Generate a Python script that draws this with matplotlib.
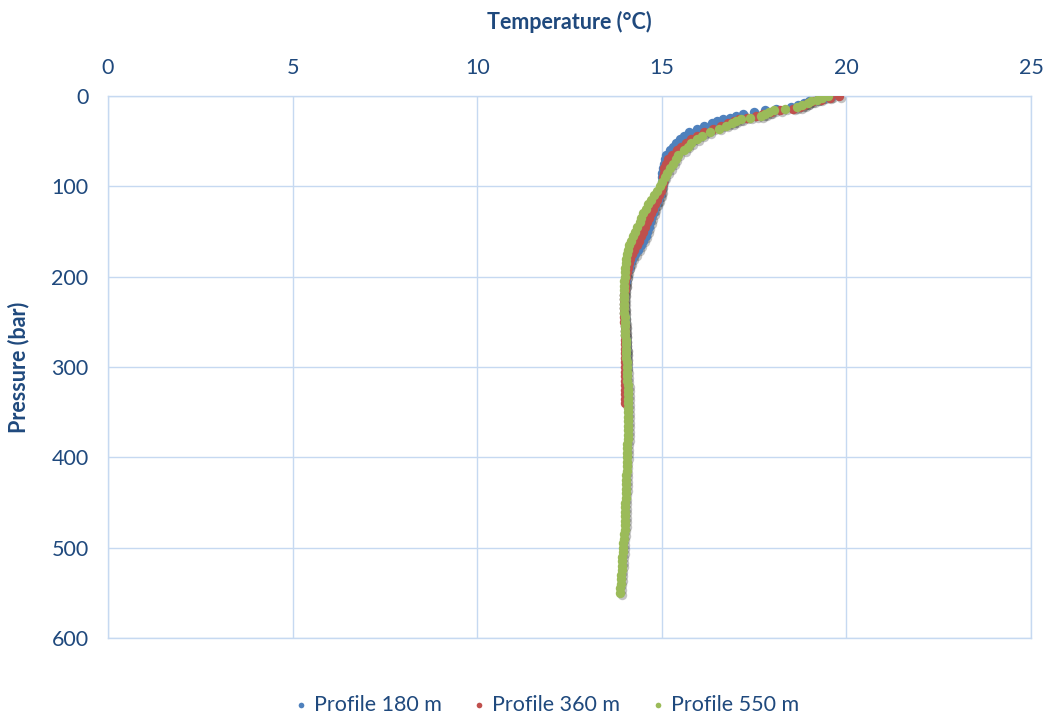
import matplotlib
matplotlib.use("Agg")
import matplotlib.pyplot as plt
from matplotlib.transforms import offset_copy

plt.rcParams["font.family"] = ["Lato", "DejaVu Sans"]

TEXT_COLOR = "#1f497d"
GRID_COLOR = "#c6d9f1"

COLORS = {
    "Profile 180 m": "#4f81bd",
    "Profile 360 m": "#c0504d",
    "Profile 550 m": "#9bbb59",
}

# Profile 180 m
p_180 = [0, 2, 4, 6, 8, 10, 12, 14, 16, 18, 20, 22, 24, 26, 28, 30, 33, 36, 40, 44,
         48, 52, 56, 60, 65, 70, 75, 80, 85, 90, 95, 100, 105, 110, 115, 120, 125, 130,
         135, 140, 145, 150, 155, 160, 165, 170, 175, 180, 185, 190, 195, 200, 205, 210,
         215, 220, 225, 230, 235, 240, 245, 250, 255, 260, 265, 270, 275, 280, 285, 290,
         295, 300]
t_180 = [19.6, 19.4, 19.2, 19.0, 18.85, 18.7, 18.5, 18.1, 17.8, 17.5, 17.2, 17.0, 16.85,
         16.65, 16.5, 16.35, 16.15, 15.95, 15.75, 15.6, 15.5, 15.38, 15.3, 15.22, 15.12,
         15.08, 15.05, 15.02, 15.0, 15.0, 15.0, 15.0, 14.98, 14.95, 14.9, 14.85, 14.8,
         14.76, 14.72, 14.68, 14.64, 14.6, 14.56, 14.5, 14.43, 14.36, 14.28, 14.2, 14.15,
         14.1, 14.07, 14.04, 14.02, 14.0, 13.99, 13.98, 13.98, 13.98, 13.98, 13.98, 13.99,
         13.99, 14.0, 14.0, 14.01, 14.02, 14.02, 14.03, 14.03, 14.04, 14.04, 14.05]

# Profile 360 m
p_360 = [0, 2, 4, 6, 8, 10, 12, 14, 16, 18, 20, 22, 24, 26, 28, 30, 33, 36, 40, 44,
         48, 52, 56, 60, 65, 70, 75, 80, 85, 90, 95, 100, 105, 110, 115, 120, 125, 130,
         135, 140, 145, 150, 155, 160, 165, 170, 175, 180, 185, 190, 195, 200, 205, 210,
         215, 220, 225, 230, 235, 240, 245, 250, 255, 260, 265, 270, 275, 280, 285, 290,
         295, 300, 305, 310, 315, 320, 325, 330, 335, 340]
t_360 = [19.8, 19.55, 19.3, 19.1, 18.95, 18.85, 18.75, 18.55, 18.2, 17.95, 17.75, 17.55,
         17.3, 17.1, 16.95, 16.8, 16.6, 16.4, 16.15, 15.95, 15.8, 15.65, 15.52, 15.4,
         15.28, 15.18, 15.12, 15.07, 15.05, 15.03, 15.02, 15.0, 14.97, 14.93, 14.88, 14.82,
         14.76, 14.7, 14.65, 14.6, 14.55, 14.5, 14.45, 14.38, 14.32, 14.26, 14.2, 14.15,
         14.11, 14.08, 14.05, 14.03, 14.01, 14.0, 13.99, 13.98, 13.97, 13.97, 13.97, 13.97,
         13.98, 13.98, 13.99, 13.99, 14.0, 14.0, 14.0, 14.0, 14.0, 14.0, 14.0, 14.0,
         14.0, 14.0, 14.0, 14.0, 14.0, 14.0, 14.0, 14.01]

# Profile 550 m
p_550 = [0, 2, 4, 6, 8, 10, 12, 14, 16, 18, 20, 22, 24, 26, 28, 30, 33, 36, 40, 44,
         48, 52, 56, 60, 65, 70, 75, 80, 85, 90, 95, 100, 105, 110, 115, 120, 125, 130,
         135, 140, 145, 150, 155, 160, 165, 170, 175, 180, 185, 190, 195, 200, 205, 210,
         215, 220, 225, 230, 235, 240, 245, 250, 255, 260, 265, 270, 275, 280, 285, 290,
         295, 300, 305, 310, 315, 320, 325, 330, 335, 340, 345, 350, 355, 360, 365, 370,
         375, 380, 385, 390, 395, 400, 405, 410, 415, 420, 425, 430, 435, 440, 445, 450,
         455, 460, 465, 470, 475, 480, 485, 490, 495, 500, 505, 510, 515, 520, 525, 530,
         535, 540, 545, 550]
t_550 = [19.5, 19.35, 19.2, 19.05, 18.95, 18.8, 18.65, 18.35, 18.05, 17.9, 17.8, 17.7,
         17.4, 17.15, 17.0, 16.9, 16.75, 16.55, 16.3, 16.1, 15.95, 15.8, 15.7, 15.6, 15.45,
         15.38, 15.3, 15.22, 15.15, 15.08, 15.0, 14.95, 14.87, 14.78, 14.7, 14.62, 14.56,
         14.5, 14.45, 14.4, 14.34, 14.28, 14.22, 14.16, 14.12, 14.08, 14.05, 14.03, 14.02,
         14.0, 14.0, 13.99, 13.98, 13.98, 13.97, 13.97, 13.97, 13.97, 13.98, 13.98, 13.99,
         14.0, 14.0, 14.0, 14.01, 14.02, 14.02, 14.03, 14.03, 14.04, 14.05, 14.05, 14.06,
         14.07, 14.07, 14.08, 14.08, 14.08, 14.09, 14.09, 14.09, 14.09, 14.09, 14.09, 14.09,
         14.08, 14.08, 14.08, 14.07, 14.07, 14.06, 14.06, 14.05, 14.05, 14.05, 14.04, 14.04,
         14.03, 14.03, 14.02, 14.02, 14.01, 14.01, 14.01, 14.0, 14.0, 14.0, 13.99, 13.98,
         13.97, 13.96, 13.95, 13.95, 13.93, 13.93, 13.92, 13.91, 13.9, 13.9, 13.89, 13.88,
         13.87]

SERIES = [
    ("Profile 180 m", t_180, p_180),
    ("Profile 360 m", t_360, p_360),
    ("Profile 550 m", t_550, p_550),
]

X_TICKS = [0, 5, 10, 15, 20, 25]
Y_TICKS = [0, 100, 200, 300, 400, 500, 600]


def main() -> None:
    fig = plt.figure(figsize=(10.51, 7.2), dpi=100)
    ax = fig.add_axes([108 / 1051, 1 - 638 / 720, (1031 - 108) / 1051, (638 - 96) / 720])

    shadow = offset_copy(ax.transData, fig=fig, x=1.2, y=-1.2, units="points")
    handles = []
    for label, temps, press in SERIES:
        ax.scatter(temps, press, s=46, color="#3a3a3a", alpha=0.3,
                   linewidths=0, transform=shadow, zorder=2)
        h = ax.scatter(temps, press, s=46, color=COLORS[label], linewidths=0,
                       label=label, zorder=3)
        handles.append(h)

    ax.set_xlim(0, 25)
    ax.set_ylim(600, 0)
    ax.set_xticks(X_TICKS)
    ax.set_yticks(Y_TICKS)
    ax.xaxis.tick_top()
    ax.xaxis.set_label_position("top")
    ax.tick_params(length=0, labelsize=15.5, labelcolor=TEXT_COLOR)
    ax.tick_params(axis="x", pad=13)
    ax.tick_params(axis="y", pad=14)
    ax.grid(True, color=GRID_COLOR, linewidth=1.0, zorder=0)
    ax.set_axisbelow(True)
    for spine in ax.spines.values():
        spine.set_color(GRID_COLOR)
        spine.set_linewidth(1.0)

    ax.set_xlabel("Temperature (°C)", fontsize=15.5, fontweight="bold",
                  color=TEXT_COLOR, labelpad=21)
    ax.set_ylabel("Pressure (bar)", fontsize=15.5, fontweight="bold",
                  color=TEXT_COLOR, labelpad=16)

    leg = fig.legend(
        handles=handles,
        loc="center",
        bbox_to_anchor=(0.519, 0.021),
        ncol=3,
        frameon=False,
        fontsize=15.5,
        markerscale=0.6,
        handletextpad=0.2,
        columnspacing=1.35,
        handlelength=0.8,
    )
    for text in leg.get_texts():
        text.set_color(TEXT_COLOR)

    fig.savefig("out.png", dpi=100)
    plt.close(fig)


if __name__ == "__main__":
    main()
